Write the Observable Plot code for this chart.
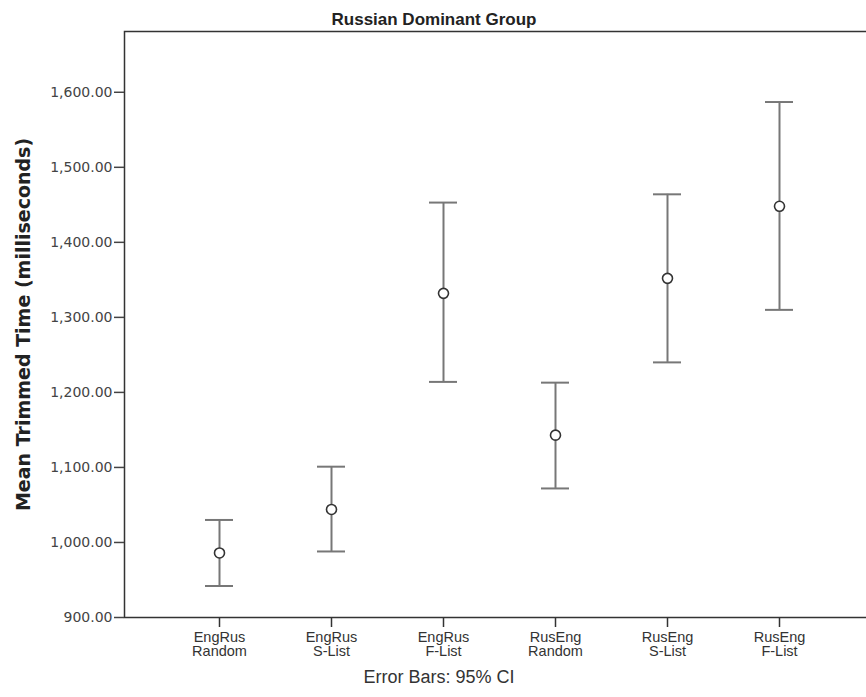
<!DOCTYPE html>
<html>
<head>
<meta charset="utf-8">
<script src="https://cdn.jsdelivr.net/npm/d3@7"></script>
<script src="https://cdn.jsdelivr.net/npm/@observablehq/plot@0.6"></script>
<style>
  html, body { margin: 0; padding: 0; background: #fff; }
</style>
</head>
<body>
<div id="chart"></div>
<script>
// ---- data ----
const categories = ["EngRus\nRandom", "EngRus\nS-List", "EngRus\nF-List", "RusEng\nRandom", "RusEng\nS-List", "RusEng\nF-List"];
const means = [986, 1044, 1332, 1143, 1352, 1448];
const lower = [942, 988, 1214, 1072, 1240, 1310];
const upper = [1030, 1101, 1453, 1213, 1464, 1587];
const yTicks = [900, 1000, 1100, 1200, 1300, 1400, 1500, 1600];
const yDomain = [900, 1681];
const titleText = "Russian Dominant Group";
const yLabel = "Mean Trimmed Time (milliseconds)";
const captionText = "Error Bars: 95% CI";

const rows = categories.map((c, i) => ({cat: c, mean: means[i], lo: lower[i], hi: upper[i]}));

const capInset = 42;

const chart = Plot.plot({
  width: 866,
  height: 697,
  marginLeft: 124,
  marginRight: -7,
  marginTop: 31,
  marginBottom: 80,
  style: {fontFamily: "'Liberation Sans', Arial, sans-serif", background: "#fff"},
  x: {type: "band", domain: categories, paddingInner: 0, paddingOuter: 0.323},
  y: {domain: yDomain},
  marks: [
    Plot.frame({stroke: "#333", strokeWidth: 1.5}),
    Plot.axisY(yTicks, {
      tickFormat: d3.format(",.2f"), tickSize: 10, tickPadding: 2,
      fontSize: 14, fontFamily: "'DejaVu Sans', sans-serif",
      color: "#444", strokeWidth: 1.5, label: null
    }),
    Plot.axisX({
      tickSize: 10, tickPadding: 4, fontSize: 14.5, lineHeight: 1.0,
      color: "#333", strokeWidth: 1.5, label: null
    }),
    Plot.ruleX(rows, {x: "cat", y1: "lo", y2: "hi", stroke: "#777", strokeWidth: 2}),
    Plot.tickY(rows, {x: "cat", y: "lo", insetLeft: capInset, insetRight: capInset, stroke: "#777", strokeWidth: 2}),
    Plot.tickY(rows, {x: "cat", y: "hi", insetLeft: capInset, insetRight: capInset, stroke: "#777", strokeWidth: 2}),
    Plot.dot(rows, {x: "cat", y: "mean", r: 5, stroke: "#333", fill: "#fff", strokeWidth: 1.6}),
    Plot.text([titleText], {frameAnchor: "top", dx: -65, dy: -7, lineAnchor: "bottom",
      fontSize: 17, fontWeight: "bold", fill: "#222"}),
    Plot.text([yLabel], {frameAnchor: "left", dx: -101, dy: 0, rotate: -90, textAnchor: "middle", lineAnchor: "middle",
      fontSize: 19, fontWeight: "bold", fontFamily: "'DejaVu Sans', sans-serif", fill: "#222"}),
    Plot.text([captionText], {frameAnchor: "bottom", dx: -60, dy: 60, lineAnchor: "middle",
      fontSize: 18, fill: "#333"})
  ]
});
document.getElementById("chart").appendChild(chart);
</script>
</body>
</html>
